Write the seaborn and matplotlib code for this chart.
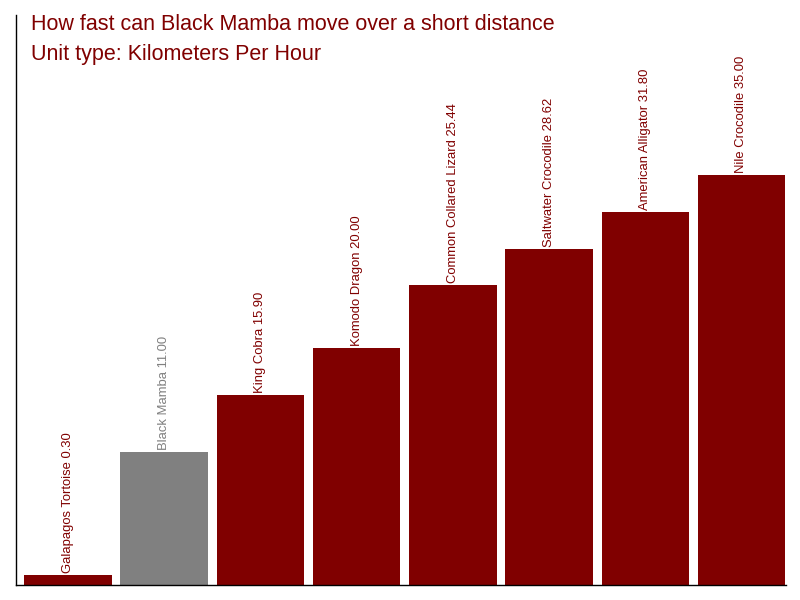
import matplotlib
matplotlib.use("Agg")
import matplotlib.pyplot as plt
import seaborn as sns
import pandas as pd

animals = ["Galapagos Tortoise", "Black Mamba", "King Cobra", "Komodo Dragon",
           "Common Collared Lizard", "Saltwater Crocodile", "American Alligator", "Nile Crocodile"]
speeds = [0.30, 11.00, 15.90, 20.00, 25.44, 28.62, 31.80, 35.00]
highlight = "Black Mamba"
title_lines = ["How fast can Black Mamba move over a short distance",
               "Unit type: Kilometers Per Hour"]

RED = "#800000"
GREY = "#808080"

sns.set_theme(style="white")
plt.rcParams['font.family'] = ['Liberation Sans', 'DejaVu Sans']

df = pd.DataFrame({"animal": animals, "speed": speeds})
palette = {a: (GREY if a == highlight else RED) for a in animals}

fig = plt.figure(figsize=(8, 6), dpi=100)
ax = fig.add_axes([15.5/800, 15/600, 770.5/800, 570/600])
sns.barplot(data=df, x="animal", y="speed", hue="animal", palette=palette,
            legend=False, width=0.91, saturation=1, ax=ax)

ymin, ymax = -0.56, 48.9
ax.set_ylim(ymin, ymax)
ax.set_xlim(-0.546, 7.4626)
for p in ax.patches:
    h = p.get_height()
    p.set_y(ymin)
    p.set_height(h - ymin)
    p.set_edgecolor("none")

for i, (a, v) in enumerate(zip(animals, speeds)):
    ax.annotate(f"{a} {v:.2f}", xy=(i, v), xytext=(0, 1.5), textcoords="offset points",
                rotation=90, ha="center", va="bottom", fontsize=9.4,
                color=(GREY if a == highlight else RED))

ax.set_xticks([])
ax.set_yticks([])
ax.set_xlabel("")
ax.set_ylabel("")
for s in ["top", "right"]:
    ax.spines[s].set_visible(False)
for s in ["left", "bottom"]:
    ax.spines[s].set_color("black")
    ax.spines[s].set_linewidth(1)

fig.text(31/800, 1 - 30/600, title_lines[0], color=RED, fontsize=15.5, va="baseline", ha="left")
fig.text(31/800, 1 - 60/600, title_lines[1], color=RED, fontsize=15.5, va="baseline", ha="left")

fig.savefig("out.png", dpi=100)
